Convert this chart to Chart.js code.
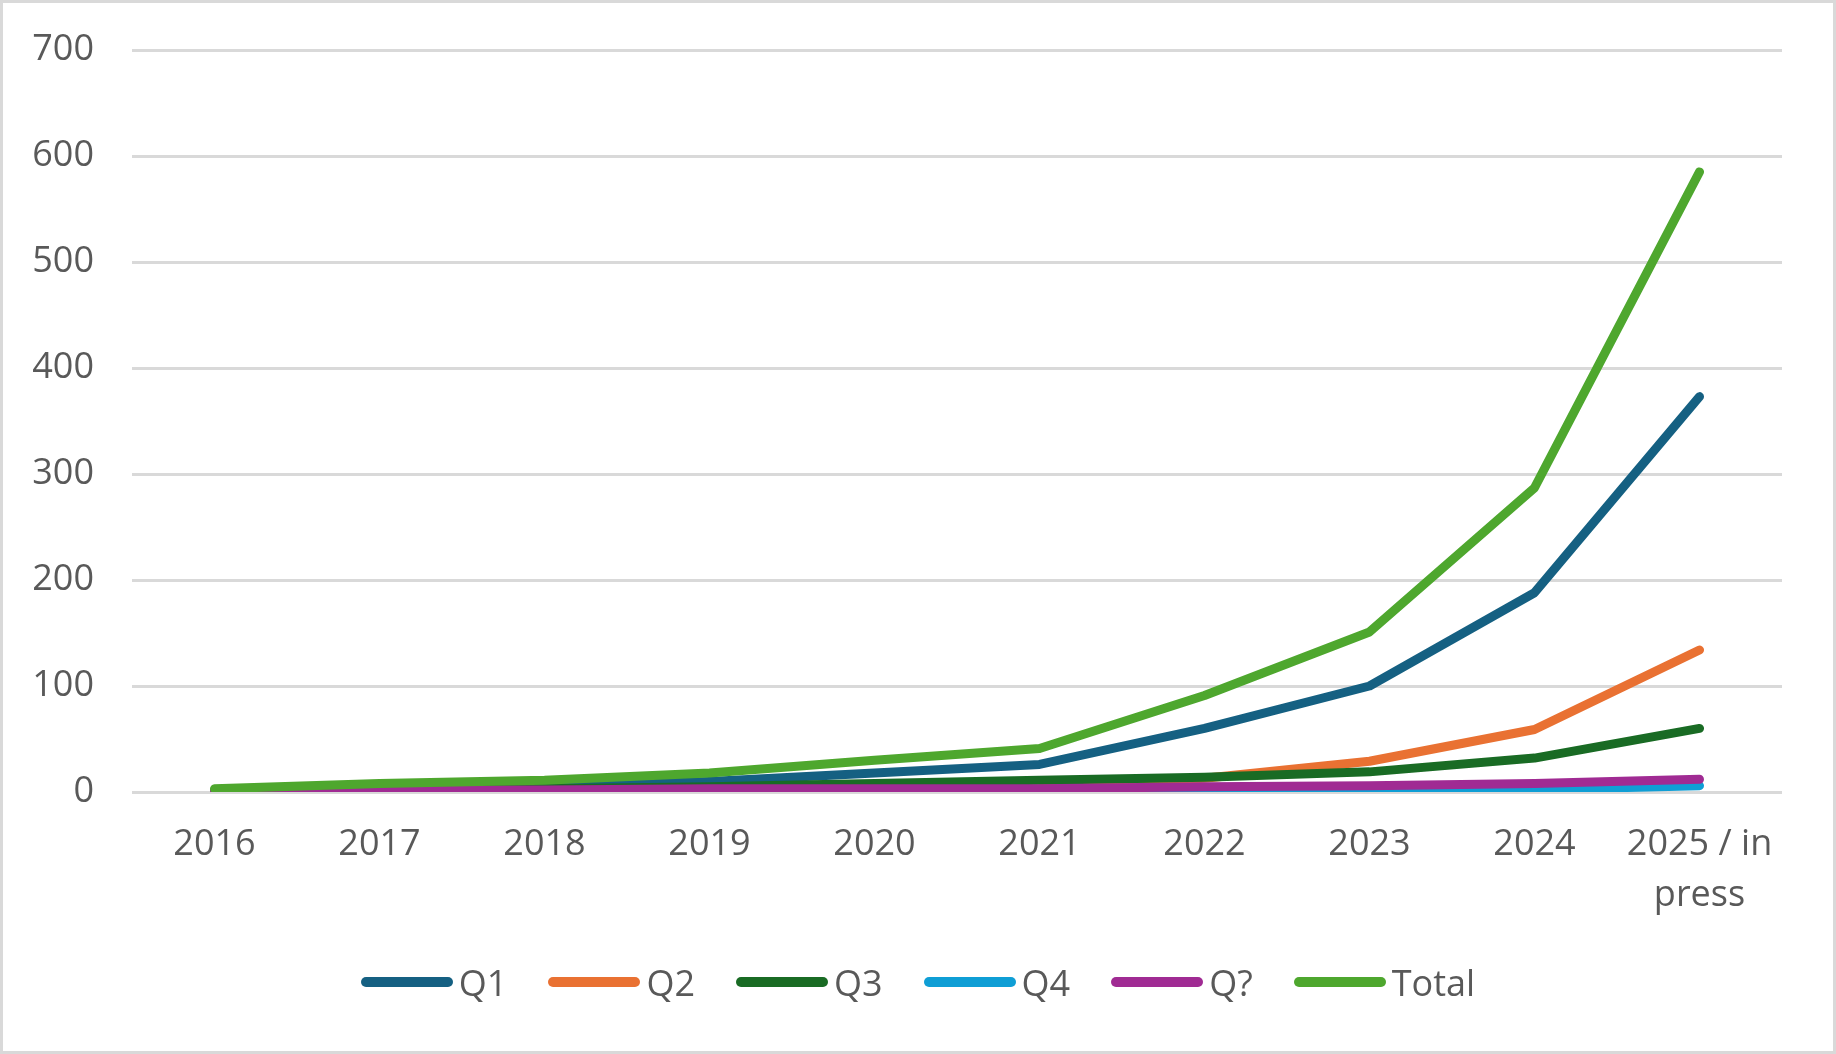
<!DOCTYPE html>
<html>
<head>
<meta charset="utf-8">
<script src="https://cdn.jsdelivr.net/npm/chart.js@4"></script>
<style>
  html, body { margin:0; padding:0; background:#fff; }
  #wrap { position:absolute; left:0; top:0; width:1836px; height:1054px; }
  #frame { position:absolute; left:0; top:0; width:1836px; height:1054px; box-sizing:border-box; border:3px solid #d9d9d9; pointer-events:none; }
  #legend { position:absolute; left:0; width:1836px; top:957px; height:50px; display:flex; justify-content:center; align-items:center; gap:41px;
            font-family:'Open Sans','DejaVu Sans',sans-serif; font-size:36px; color:#595959; }
  #legend .item { display:flex; align-items:center; gap:6px; }
  #legend .swatch { width:92px; height:10px; border-radius:5px; }
</style>
</head>
<body>
<div id="wrap"><canvas id="c"></canvas></div>
<div id="legend"></div>
<div id="frame"></div>
<script>
const years = ['2016','2017','2018','2019','2020','2021','2022','2023','2024',['2025 / in','press']];
const q1    = [1, 3, 5, 10, 18, 26, 60, 100, 188, 373];
const q2    = [0, 1, 1, 1, 1, 3, 13, 29, 59, 134];
const q3    = [1, 2, 3, 5, 8, 11, 14, 19, 32, 60];
const q4    = [0, 0, 0, 0, 0, 0, 0, 1, 2, 6];
const qUnk  = [1, 2, 2, 3, 3, 3, 5, 6, 8, 12];
const total = [3, 8, 11, 18, 30, 41, 91, 151, 287, 585];
const yTicks = [0, 100, 200, 300, 400, 500, 600, 700];

const series = [
  {label:'Q1',    data:q1,    color:'#156082'},
  {label:'Q2',    data:q2,    color:'#E97132'},
  {label:'Q3',    data:q3,    color:'#196B24'},
  {label:'Q4',    data:q4,    color:'#0F9ED5'},
  {label:'Q?',    data:qUnk,  color:'#A02B93'},
  {label:'Total', data:total, color:'#4EA72E'},
];

const FONT = "'Open Sans', 'DejaVu Sans', sans-serif";
const GREY = '#595959';

// legend as plain html, text sits right next to the line like in Excel
const lg = document.getElementById('legend');
series.forEach(s => {
  lg.innerHTML += `<div class="item"><div class="swatch" style="background:${s.color}"></div><span>${s.label}</span></div>`;
});

new Chart(document.getElementById('c'), {
  type:'line',
  data:{
    labels:years,
    // later series drawn on top, like the original
    datasets:series.map((s,i) => ({
      label:s.label, data:s.data, borderColor:s.color, backgroundColor:s.color,
      borderWidth:9, pointRadius:0, tension:0, borderCapStyle:'round', borderJoinStyle:'round',
      order:series.length - i
    }))
  },
  options:{
    responsive:true, maintainAspectRatio:false, animation:false,
    layout:{padding:{left:0, right:54, top:50, bottom:120}},
    plugins:{tooltip:{enabled:false}, legend:{display:false}},
    scales:{
      x:{
        offset:true,
        grid:{display:false, drawTicks:false},
        border:{display:false},
        ticks:{color:GREY, font:{family:FONT, size:36, lineHeight:1.4}, padding:28, maxRotation:0, autoSkip:false},
        afterFit:s => { s.height = 142; }
      },
      y:{
        min:0, max:700,
        afterBuildTicks:s => { s.ticks = yTicks.map(v => ({value:v})); },
        grid:{color:'#d9d9d9', lineWidth:3, drawTicks:false},
        border:{display:false},
        // small lineHeight so the label padding doesn't push the plot top down
        ticks:{color:GREY, font:{family:FONT, size:36, lineHeight:0.6}, padding:38},
        afterFit:s => { s.width = 132; }
      }
    }
  }
});
</script>
</body>
</html>
